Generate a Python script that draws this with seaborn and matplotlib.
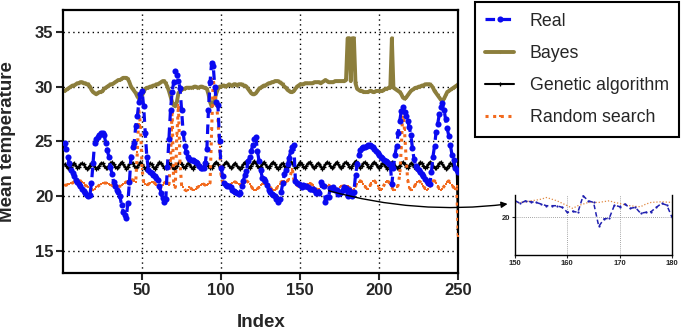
import numpy as np
import pandas as pd
import seaborn as sns
import matplotlib.pyplot as plt

# x axis: sample index
index = np.arange(1, 251)

real = [
    24.9, 24.3, 23.6, 23.0, 22.4, 22.1, 21.8, 21.5, 21.3, 21.1,
    20.9, 20.7, 20.5, 20.3, 20.1, 20.0, 20.1, 21.2, 23.0, 24.9,
    25.2, 25.4, 25.6, 25.8, 25.8, 25.6, 24.9, 24.2, 23.6, 22.7,
    22.0, 21.3, 20.9, 20.6, 20.4, 20.0, 19.2, 18.6, 18.3, 18.0,
    19.4, 21.3, 23.6, 24.5, 24.9, 26.4, 27.3, 28.6, 29.3, 29.6,
    28.2, 25.8, 23.6, 22.4, 22.2, 22.1, 21.9, 21.8, 21.7, 21.5,
    20.9, 20.3, 19.8, 19.5, 19.7, 22.7, 25.2, 27.9, 29.5, 30.4,
    31.4, 31.1, 30.5, 29.9, 27.9, 25.8, 24.6, 24.0, 23.6, 23.4,
    23.3, 23.3, 23.2, 23.1, 23.0, 22.8, 22.6, 22.6, 22.6, 23.0,
    24.3, 27.9, 30.4, 32.2, 31.9, 30.0, 28.6, 28.3, 25.0, 22.6,
    21.8, 21.2, 21.0, 20.9, 20.9, 20.8, 20.6, 20.5, 20.4, 20.3,
    20.2, 20.3, 20.9, 21.4, 21.9, 22.3, 23.2, 23.6, 24.1, 24.7,
    25.2, 25.4, 24.1, 23.2, 22.4, 21.7, 21.6, 21.4, 21.0, 20.6,
    20.4, 20.2, 20.1, 20.0, 19.7, 19.5, 19.7, 20.4, 21.2, 22.0,
    22.4, 22.9, 23.5, 24.1, 24.5, 24.7, 21.4, 21.2, 21.1, 21.0,
    20.84, 21.0, 20.94, 20.9, 20.8, 20.7, 20.7, 20.7, 20.6, 20.3,
    20.36, 20.3, 21.3, 21.0, 20.9, 19.44, 19.9, 19.94, 20.74, 20.64,
    20.8, 20.54, 20.6, 20.24, 20.3, 20.34, 20.6, 20.84, 20.74, 20.0,
    20.6, 20.3, 20.0, 20.4, 21.9, 22.9, 23.8, 24.2, 24.4, 24.5,
    24.5, 24.6, 24.7, 24.7, 24.6, 24.5, 24.3, 24.1, 23.9, 23.8,
    23.6, 23.5, 23.3, 23.2, 23.1, 22.9, 22.9, 21.1, 22.6, 23.8,
    24.6, 25.8, 26.9, 27.8, 28.1, 27.7, 27.3, 26.9, 26.3, 25.6,
    24.4, 23.4, 22.8, 22.6, 22.4, 22.2, 22.0, 21.8, 21.6, 21.4,
    21.2, 21.1, 22.2, 23.6, 24.6, 25.9, 26.6, 27.5, 28.1, 28.5,
    27.9, 27.0, 26.2, 25.5, 24.7, 23.8, 23.3, 22.6, 22.4, 22.2,
]

bayes = [
    29.6, 29.7, 29.8, 29.9, 30.0, 30.1, 30.1, 30.2, 30.3, 30.3,
    30.4, 30.4, 30.3, 30.3, 30.2, 30.2, 30.0, 29.7, 29.5, 29.4,
    29.3, 29.4, 29.5, 29.5, 29.6, 29.8, 29.9, 30.0, 30.1, 30.2,
    30.2, 30.3, 30.4, 30.5, 30.6, 30.6, 30.7, 30.8, 30.8, 30.8,
    30.7, 30.4, 30.0, 29.8, 29.6, 29.4, 29.1, 28.9, 28.8, 29.2,
    29.5, 29.8, 29.9, 29.9, 30.0, 30.0, 30.1, 30.1, 30.2, 30.2,
    30.3, 30.4, 30.5, 30.5, 30.3, 30.0, 29.6, 29.1, 28.6, 28.3,
    28.2, 28.6, 29.4, 29.6, 29.7, 29.8, 29.8, 29.9, 29.9, 29.9,
    29.9, 29.9, 30.0, 30.0, 29.9, 29.9, 30.0, 30.0, 29.9, 29.9,
    29.8, 29.3, 28.6, 28.2, 28.4, 28.9, 29.4, 29.8, 30.0, 30.0,
    30.1, 30.1, 30.0, 30.1, 30.2, 30.1, 30.1, 30.2, 30.2, 30.1,
    30.2, 30.2, 30.2, 30.1, 30.1, 30.0, 29.8, 29.6, 29.4, 29.3,
    29.3, 29.4, 29.6, 29.8, 29.9, 30.0, 30.1, 30.1, 30.2, 30.3,
    30.3, 30.4, 30.4, 30.5, 30.5, 30.5, 30.4, 30.3, 30.2, 30.0,
    29.9, 29.7, 29.6, 29.5, 29.5, 29.6, 29.8, 30.0, 30.1, 30.2,
    30.2, 30.2, 30.3, 30.3, 30.3, 30.3, 30.3, 30.3, 30.4, 30.4,
    30.4, 30.4, 30.3, 30.4, 30.5, 30.6, 30.5, 30.4, 30.4, 30.4,
    30.4, 30.5, 30.5, 30.5, 30.5, 30.5, 30.5, 30.5, 30.6, 34.4,
    34.4, 30.5, 34.4, 34.4, 30.3, 29.8, 29.7, 29.6, 29.6, 29.5,
    29.5, 29.5, 29.5, 29.6, 29.6, 29.5, 29.5, 29.6, 29.6, 29.6,
    29.6, 29.6, 29.7, 29.8, 29.8, 29.9, 29.9, 34.4, 29.9, 29.8,
    29.7, 29.6, 29.5, 29.3, 29.0, 28.9, 29.0, 29.2, 29.4, 29.6,
    29.7, 29.8, 29.9, 29.9, 30.0, 30.0, 30.1, 30.1, 30.2, 30.2,
    30.2, 30.2, 30.1, 29.9, 29.6, 29.4, 29.2, 29.0, 28.8, 28.7,
    28.9, 29.2, 29.5, 29.6, 29.7, 29.8, 29.9, 30.0, 30.1, 30.2,
]

genetic = [
    22.9, 22.8, 22.6, 22.5, 22.7, 22.9, 23.0, 22.8, 22.6, 22.7,
    22.9, 23.0, 22.9, 22.7, 22.5, 22.6, 22.8, 23.0, 22.9, 22.7,
    22.5, 22.6, 22.8, 23.0, 23.0, 22.8, 22.6, 22.6, 22.8, 23.0,
    23.1, 22.9, 22.7, 22.6, 22.7, 22.9, 23.1, 22.9, 22.7, 22.5,
    22.7, 22.9, 23.1, 23.0, 22.8, 22.6, 22.7, 22.9, 23.1, 22.9,
    22.7, 22.5, 22.6, 22.8, 23.0, 22.9, 22.7, 22.5, 22.7, 22.9,
    23.1, 23.0, 22.8, 22.6, 22.6, 22.8, 23.0, 22.9, 22.7, 22.5,
    22.6, 22.8, 23.0, 23.1, 22.9, 22.7, 22.6, 22.8, 23.0, 22.9,
    22.7, 22.5, 22.7, 22.9, 23.1, 22.9, 22.7, 22.6, 22.7, 22.9,
    23.0, 22.8, 22.6, 22.6, 22.8, 23.0, 23.1, 22.9, 22.7, 22.5,
    22.7, 22.9, 23.1, 23.0, 22.8, 22.6, 22.7, 22.9, 23.0, 22.8,
    22.6, 22.5, 22.7, 22.9, 23.1, 22.9, 22.7, 22.6, 22.8, 23.0,
    23.2, 23.0, 22.8, 22.6, 22.7, 22.9, 23.1, 22.9, 22.7, 22.6,
    22.8, 23.0, 23.1, 22.9, 22.7, 22.5, 22.7, 22.9, 23.0, 22.8,
    22.6, 22.7, 22.9, 23.1, 23.0, 22.8, 22.6, 22.7, 22.9, 23.1,
    22.9, 22.7, 22.6, 22.8, 23.0, 23.1, 22.9, 22.7, 22.6, 22.8,
    23.0, 22.9, 22.7, 22.5, 22.7, 22.9, 23.1, 23.0, 22.8, 22.6,
    22.7, 22.9, 23.1, 22.9, 22.7, 22.6, 22.8, 23.0, 23.1, 22.9,
    22.7, 22.6, 22.8, 23.0, 23.2, 23.0, 22.8, 22.6, 22.8, 23.0,
    23.1, 22.9, 22.7, 22.6, 22.8, 23.0, 23.1, 22.9, 22.7, 22.6,
    22.8, 23.0, 22.9, 22.7, 22.5, 22.7, 22.9, 23.1, 23.0, 22.8,
    22.6, 22.6, 22.8, 23.0, 23.1, 22.9, 22.7, 22.6, 22.8, 23.0,
    22.9, 22.7, 22.5, 22.7, 22.9, 23.1, 23.0, 22.8, 22.6, 22.7,
    22.9, 23.1, 23.0, 22.8, 22.6, 22.6, 22.8, 23.0, 23.1, 22.9,
    22.7, 22.5, 22.6, 22.8, 23.0, 22.9, 22.7, 22.6, 22.5, 17.0,
]

random_search = [
    21.0, 21.0, 21.1, 21.1, 21.2, 21.2, 21.3, 21.3, 21.4, 21.4,
    21.4, 21.3, 21.2, 21.0, 20.9, 20.8, 20.7, 20.6, 20.6, 20.7,
    20.8, 20.9, 21.0, 21.1, 21.2, 21.2, 21.2, 21.2, 21.1, 21.0,
    21.0, 20.9, 20.9, 20.9, 20.9, 20.9, 21.0, 21.1, 21.2, 21.3,
    21.4, 21.5, 21.5, 21.5, 21.4, 21.3, 24.0, 27.8, 26.5, 22.5,
    21.3, 21.1, 21.0, 21.1, 21.2, 21.3, 21.3, 21.2, 21.0, 20.8,
    20.7, 20.8, 21.0, 21.2, 21.3, 21.2, 21.0, 23.5, 27.9, 21.0,
    20.8, 25.5, 28.3, 23.0, 21.0, 20.8, 20.6, 20.5, 20.6, 20.8,
    20.7, 20.6, 20.6, 20.7, 20.8, 20.9, 21.0, 21.1, 21.1, 21.0,
    21.0, 21.1, 21.2, 26.0, 30.7, 29.5, 28.5, 27.0, 24.5, 21.8,
    21.3, 21.2, 21.1, 21.0, 21.0, 21.1, 21.2, 21.3, 21.3, 21.2,
    21.1, 21.0, 21.1, 21.3, 21.4, 21.4, 21.3, 21.1, 20.9, 20.7,
    20.6, 20.6, 20.7, 20.8, 21.0, 21.1, 21.2, 21.1, 21.0, 20.9,
    20.8, 20.7, 20.6, 20.6, 20.7, 20.9, 21.1, 21.3, 21.4, 21.4,
    21.3, 21.4, 21.6, 22.0, 22.5, 21.5, 21.2, 21.0, 20.9, 20.84,
    20.9, 20.94, 21.0, 21.04, 21.1, 21.2, 21.1, 21.0, 20.85, 20.7,
    20.54, 20.7, 20.8, 20.9, 20.9, 20.9, 20.95, 21.0, 20.9, 20.84,
    20.75, 20.7, 20.66, 20.64, 20.8, 20.9, 20.92, 20.94, 20.92, 20.9,
    20.8, 20.7, 20.6, 20.7, 20.9, 21.1, 21.3, 21.4, 21.3, 21.1,
    20.9, 20.7, 20.7, 20.9, 21.2, 21.4, 21.4, 21.2, 20.9, 20.7,
    20.6, 20.7, 21.0, 21.3, 21.4, 21.3, 21.1, 20.8, 20.6, 20.6,
    20.8, 21.0, 22.0, 24.5, 28.1, 26.0, 23.5, 21.5, 20.8, 20.6,
    20.6, 20.8, 21.1, 21.3, 21.4, 21.3, 21.1, 20.9, 20.7, 20.6,
    20.7, 20.9, 21.2, 21.4, 21.4, 21.2, 20.9, 20.7, 20.6, 20.7,
    20.9, 21.1, 21.3, 21.4, 21.2, 21.0, 20.8, 20.7, 20.9, 16.4,
]

labels = ['Real', 'Bayes', 'Genetic algorithm', 'Random search']
xticks = [50, 100, 150, 200, 250]
yticks = [15, 20, 25, 30, 35]
inset_start, inset_end = 150, 180

df = pd.DataFrame({'index': index, 'Real': real, 'Bayes': bayes,
                   'Genetic algorithm': genetic, 'Random search': random_search})

blue = '#0a0af0'
olive = '#8c7e3c'
orange = '#f26a1e'

sns.set_style('white')
plt.rcParams['font.family'] = ['Liberation Sans', 'DejaVu Sans']

fig = plt.figure(figsize=(6.85, 3.30), dpi=100)
ax = fig.add_axes([0.092, 0.173, 0.577, 0.797])

sns.lineplot(data=df, x='index', y='Bayes', ax=ax, color=olive, lw=2.8,
             marker='v', markersize=2.5, markeredgewidth=0, markeredgecolor=olive, zorder=2)
h_bayes = ax.lines[-1]
sns.lineplot(data=df, x='index', y='Genetic algorithm', ax=ax, color='black', lw=1.5,
             marker='+', markersize=3.5, markeredgewidth=0.9, markeredgecolor='black', zorder=3)
h_ga = ax.lines[-1]
sns.lineplot(data=df, x='index', y='Random search', ax=ax, color=orange, lw=2.2,
             linestyle=(0, (1, 1.5)), marker='s', markersize=1.8, markeredgewidth=0,
             markeredgecolor=orange, zorder=4)
h_rand = ax.lines[-1]
sns.lineplot(data=df, x='index', y='Real', ax=ax, color=blue, lw=2.3,
             linestyle=(0, (3, 2)), marker='o', markersize=4.4, markeredgewidth=0,
             markeredgecolor=blue, zorder=5)
h_real = ax.lines[-1]

ax.set_xlim(0, 250)
ax.set_ylim(13, 37)
ax.set_xticks(xticks)
ax.set_yticks(yticks)
ax.grid(True, color='black', linestyle=(0, (1, 2.5)), linewidth=1)
ax.set_axisbelow(True)
for s in ax.spines.values():
    s.set_linewidth(1.6)
    s.set_color('black')
ax.tick_params(axis='both', direction='out', length=5, width=1.5, labelsize=12,
               bottom=True, left=True, pad=2)
for lbl in ax.get_xticklabels() + ax.get_yticklabels():
    lbl.set_fontweight('bold')
ax.set_xlabel('Index', fontsize=13.5, fontweight='bold')
ax.set_ylabel('Mean temperature', fontsize=13.5, fontweight='bold')
ax.xaxis.set_label_coords(0.5, -0.155)
ax.yaxis.set_label_coords(-0.118, 0.5)

leg = fig.legend(handles=[h_real, h_bayes, h_ga, h_rand], labels=labels,
                 loc='upper left', bbox_to_anchor=(0.693, 0.994), borderaxespad=0,
                 fontsize=12.8, frameon=True, fancybox=False, edgecolor='black', framealpha=1,
                 handlelength=1.6, handletextpad=0.9, labelspacing=0.85, borderpad=0.6)
leg.get_frame().set_linewidth(1.5)

# zoomed inset
axi = fig.add_axes([0.752, 0.227, 0.229, 0.182])
sub = df[(df['index'] >= inset_start) & (df['index'] <= inset_end)]
sns.lineplot(data=sub, x='index', y='Random search', ax=axi, color='#e08a44', lw=0.9,
             linestyle=(0, (1, 1.5)))
sns.lineplot(data=sub, x='index', y='Real', ax=axi, color='#2020b0', lw=1.1,
             linestyle=(0, (3, 2)), marker='o', markersize=1.6, markeredgewidth=0)
axi.set_xlim(inset_start, inset_end)
axi.set_ylim(17.7, 21.35)
axi.set_xticks([150, 160, 170, 180])
axi.set_yticks([20])
axi.grid(True, color='#888888', linestyle=(0, (1, 1.5)), linewidth=0.6)
axi.set_axisbelow(True)
axi.spines['top'].set_visible(False)
for k in ['left', 'bottom', 'right']:
    axi.spines[k].set_linewidth(1.0)
    axi.spines[k].set_color('black')
axi.tick_params(axis='both', direction='out', length=2, width=0.8, labelsize=5.5,
                bottom=True, left=True, pad=1.5)
for lbl in axi.get_xticklabels() + axi.get_yticklabels():
    lbl.set_fontweight('bold')
axi.set_xlabel('')
axi.set_ylabel('')

ax.annotate('', xy=(0.741, 0.382), xycoords='figure fraction',
            xytext=(168, 20.5), textcoords='data',
            arrowprops=dict(arrowstyle='-|>', color='black', lw=1,
                            connectionstyle='arc3,rad=0.1', shrinkA=0, shrinkB=0,
                            mutation_scale=9),
            annotation_clip=False, zorder=6)

fig.savefig('out.png', dpi=100)
